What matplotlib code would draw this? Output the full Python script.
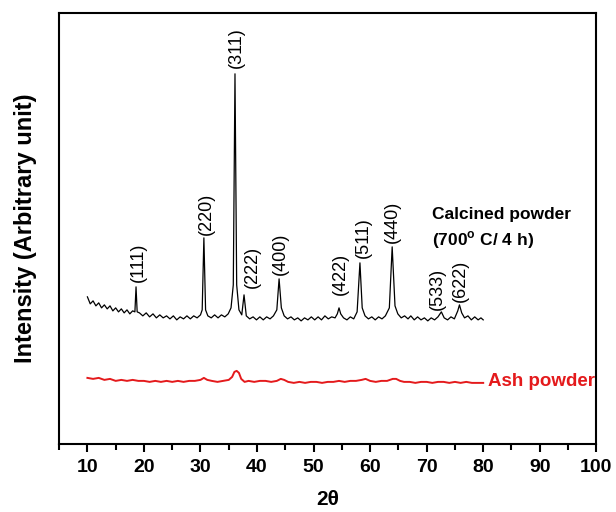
import matplotlib
matplotlib.use("Agg")
import matplotlib.pyplot as plt
from matplotlib.ticker import MultipleLocator

plt.rcParams['font.family'] = ['Liberation Sans', 'DejaVu Sans']
plt.rcParams['mathtext.fontset'] = 'custom'
plt.rcParams['mathtext.bf'] = 'Liberation Sans:bold'
plt.rcParams['mathtext.rm'] = 'Liberation Sans'

# calcined powder pattern (2theta, intensity)
calc_2t = [10.0, 10.5, 11.0, 11.5, 12.0, 12.5, 13.0, 13.5, 14.0, 14.5, 15.0, 15.5,
           16.0, 16.5, 17.0, 17.5, 18.0, 18.4, 18.6, 18.8, 19.2, 19.8, 20.4, 21.0,
           21.6, 22.2, 22.8, 23.4, 24.0, 24.6, 25.2, 25.8, 26.4, 27.0, 27.6, 28.2,
           28.8, 29.4, 30.0, 30.3, 30.6, 30.9, 31.3, 31.9, 32.5, 33.1, 33.7, 34.3,
           34.9, 35.4, 35.8, 36.1, 36.4, 36.8, 37.3, 37.7, 38.1, 38.7, 39.3, 39.9,
           40.5, 41.1, 41.7, 42.3, 42.9, 43.5, 43.9, 44.3, 44.8, 45.4, 46.0, 46.6,
           47.2, 47.8, 48.4, 49.0, 49.6, 50.2, 50.8, 51.4, 52.0, 52.6, 53.2, 53.8,
           54.2, 54.5, 54.8, 55.3, 55.9, 56.5, 57.1, 57.7, 58.2, 58.6, 59.1, 59.7,
           60.3, 60.9, 61.5, 62.1, 62.7, 63.4, 63.9, 64.4, 64.9, 65.5, 66.1, 66.7,
           67.2, 67.8, 68.4, 69.0, 69.6, 70.2, 70.8, 71.4, 72.0, 72.6, 73.1, 73.7,
           74.3, 74.9, 75.5, 75.8, 76.2, 76.7, 77.3, 77.9, 78.5, 79.1, 79.6, 80.0]
calc_int = [147, 140, 143, 138, 141, 136, 139, 135, 138, 133, 136, 132,
            135, 131, 134, 130, 133, 132, 157, 132, 131, 128, 131, 127,
            130, 126, 129, 126, 128, 125, 128, 124, 127, 125, 128, 125,
            128, 126, 129, 134, 206, 134, 128, 126, 129, 126, 129, 127,
            130, 136, 159, 370, 159, 134, 129, 149, 128, 125, 127, 124,
            127, 124, 127, 125, 128, 134, 165, 136, 128, 125, 127, 124,
            126, 123, 126, 124, 127, 124, 127, 124, 128, 125, 127, 126,
            130, 136, 130, 126, 124, 127, 125, 132, 181, 136, 128, 125,
            127, 124, 127, 125, 128, 136, 197, 138, 130, 126, 128, 125,
            128, 124, 127, 124, 126, 123, 126, 124, 127, 132, 126, 124,
            127, 125, 133, 139, 131, 126, 128, 124, 127, 124, 126, 124]

# ash powder pattern
ash_2t = [10.0, 11.0, 12.0, 13.0, 14.0, 15.0, 16.0, 17.0, 18.0, 19.0, 20.0, 21.0,
          22.0, 23.0, 24.0, 25.0, 26.0, 27.0, 28.0, 29.0, 30.0, 30.6, 31.2, 32.0,
          33.0, 34.0, 35.0, 35.6, 36.0, 36.4, 36.8, 37.2, 37.8, 38.5, 39.5, 40.5,
          41.5, 42.5, 43.5, 44.2, 44.8, 45.5, 46.5, 47.5, 48.5, 49.5, 50.5, 51.5,
          52.5, 53.5, 54.5, 55.5, 56.5, 57.5, 58.5, 59.2, 60.0, 61.0, 62.0, 63.0,
          64.0, 64.6, 65.3, 66.0, 67.0, 68.0, 69.0, 70.0, 71.0, 72.0, 73.0, 74.0,
          75.0, 76.0, 77.0, 78.0, 79.0, 80.0]
ash_int = [66, 65, 66, 64, 65, 63, 64, 63, 64, 63, 63, 62,
           63, 62, 63, 62, 63, 62, 63, 63, 64, 66, 64, 63,
           62, 63, 64, 67, 72, 73, 71, 65, 62, 63, 62, 63,
           63, 62, 63, 65, 64, 62, 61, 62, 61, 62, 62, 61,
           62, 62, 63, 62, 63, 63, 64, 65, 63, 62, 63, 63,
           65, 65, 63, 62, 62, 61, 62, 62, 61, 62, 62, 61,
           62, 61, 62, 61, 61, 61]

# peak labels and where their bottom sits
hkl = ['(111)', '(220)', '(311)', '(222)', '(400)', '(422)', '(511)', '(440)', '(533)', '(622)']
hkl_2t = [19.0, 31.1, 36.4, 39.1, 44.2, 54.7, 58.8, 63.9, 71.9, 76.0]
hkl_int = [162, 209, 376, 156, 169, 149, 186, 201, 134, 142]

fig = plt.figure(figsize=(6.16, 5.12), dpi=100)
ax = fig.add_axes([0.096, 0.133, 0.872, 0.842])

ax.plot(calc_2t, calc_int, color='black', lw=0.9)
ax.plot(ash_2t, ash_int, color='#e41a1c', lw=1.4)

for lab, x, y in zip(hkl, hkl_2t, hkl_int):
    ax.text(x, y, lab, rotation=90, ha='center', va='bottom', fontsize=13)

ax.text(71.0, 229, 'Calcined powder', fontsize=12.5, fontweight='bold', va='center', ha='left')
ax.text(71.0, 204, r'(700$^\mathbf{o}$ C/ 4 h)', fontsize=12.5, fontweight='bold', va='center', ha='left')
ax.text(80.9, 62, 'Ash powder', fontsize=13.5, fontweight='bold', color='#e41a1c', va='center', ha='left')

ax.set_xlim(5, 100)
ax.set_ylim(0, 431)
ax.set_yticks([])
ax.xaxis.set_major_locator(MultipleLocator(10))
ax.xaxis.set_minor_locator(MultipleLocator(5))
ax.set_xticks(range(10, 101, 10))
ax.tick_params(axis='x', which='major', direction='out', length=6, width=1.5, labelsize=14, pad=5)
ax.tick_params(axis='x', which='minor', direction='out', length=4, width=1.5)
for t in ax.get_xticklabels():
    t.set_fontweight('bold')
for s in ax.spines.values():
    s.set_linewidth(1.5)

ax.set_xlabel('2θ', fontsize=15, fontweight='bold', labelpad=10)
ax.set_ylabel('Intensity (Arbitrary unit)', fontsize=17, fontweight='bold', labelpad=16)

fig.savefig('out.png', dpi=100)
